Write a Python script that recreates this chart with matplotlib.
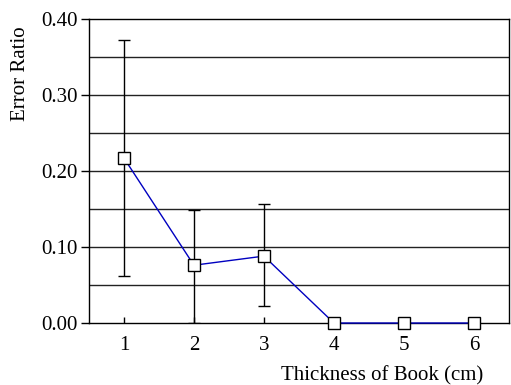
import matplotlib.pyplot as plt
import numpy as np

# Datos
espesor = [1, 2, 3, 4, 5, 6]
ratio = [0.217, 0.076, 0.088, 0.0, 0.0, 0.0]
err_sup = [0.155, 0.072, 0.068, 0.0, 0.0, 0.0]
err_inf = [0.155, 0.076, 0.066, 0.0, 0.0, 0.0]
yticks = [0.0, 0.1, 0.2, 0.3, 0.4]

plt.rcParams['font.family'] = ['Liberation Serif', 'DejaVu Serif']

fig = plt.figure(figsize=(5.11, 3.85), dpi=100)
ax = fig.add_axes([0.174, 0.161, 0.822, 0.790])

for g in np.arange(0.05, 0.40, 0.05):
    ax.axhline(g, color='#222222', lw=1.0, zorder=1)

ax.errorbar(espesor, ratio, yerr=[err_inf, err_sup], fmt='none',
            ecolor='black', elinewidth=1.0, capsize=4.3, capthick=1.0, zorder=2)
ax.plot(espesor, ratio, color='#0000c0', lw=1.0, marker='s', markersize=8,
        markerfacecolor='white', markeredgecolor='black', markeredgewidth=1.0,
        zorder=3, clip_on=False)

ax.set_xlim(0.5, 6.5)
ax.set_ylim(0, 0.40)
ax.set_yticks(yticks)
ax.set_yticklabels(['%.2f' % v for v in yticks])
ax.set_xticks(espesor)
ax.tick_params(axis='y', direction='out', length=6, width=1, labelsize=15, pad=2)
ax.tick_params(axis='x', direction='in', length=4, width=1, labelsize=15, pad=9)
for s in ax.spines.values():
    s.set_linewidth(1.0)
    s.set_color('black')

ax.set_ylabel('Error Ratio', fontsize=15)
ax.yaxis.label.set_verticalalignment('center')
ax.yaxis.set_label_coords(-0.162, 0.82)
ax.set_xlabel('Thickness of Book (cm)', fontsize=15)
ax.xaxis.label.set_horizontalalignment('right')
ax.xaxis.label.set_verticalalignment('center')
ax.xaxis.set_label_coords(0.938, -0.173)

fig.savefig('out.png', dpi=100)
